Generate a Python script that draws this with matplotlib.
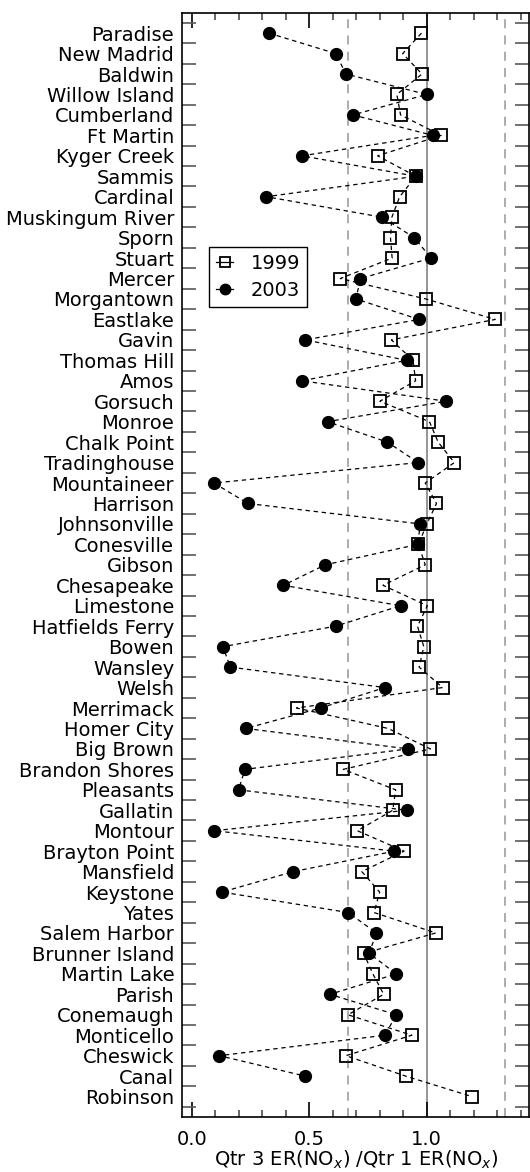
import numpy as np
import matplotlib
matplotlib.use("Agg")
from matplotlib import pyplot as plt
from matplotlib.legend_handler import HandlerLine2D
from matplotlib.ticker import MultipleLocator, FixedLocator

plants = ["Paradise", "New Madrid", "Baldwin", "Willow Island", "Cumberland",
          "Ft Martin", "Kyger Creek", "Sammis", "Cardinal", "Muskingum River",
          "Sporn", "Stuart", "Mercer", "Morgantown", "Eastlake", "Gavin",
          "Thomas Hill", "Amos", "Gorsuch", "Monroe", "Chalk Point",
          "Tradinghouse", "Mountaineer", "Harrison", "Johnsonville",
          "Conesville", "Gibson", "Chesapeake", "Limestone", "Hatfields Ferry",
          "Bowen", "Wansley", "Welsh", "Merrimack", "Homer City", "Big Brown",
          "Brandon Shores", "Pleasants", "Gallatin", "Montour", "Brayton Point",
          "Mansfield", "Keystone", "Yates", "Salem Harbor", "Brunner Island",
          "Martin Lake", "Parish", "Conemaugh", "Monticello", "Cheswick",
          "Canal", "Robinson"]

# ratio Qtr3/Qtr1
er_1999 = [0.978, 0.898, 0.980, 0.873, 0.889, 1.062, 0.791, 0.954, 0.885, 0.852,
           0.846, 0.853, 0.632, 0.997, 1.292, 0.850, 0.942, 0.953, 0.801, 1.012,
           1.049, 1.118, 0.994, 1.042, 1.001, 0.965, 0.994, 0.814, 1.003, 0.961,
           0.988, 0.968, 1.068, 0.446, 0.836, 1.016, 0.645, 0.868, 0.856, 0.705,
           0.904, 0.724, 0.800, 0.776, 1.039, 0.732, 0.771, 0.817, 0.665, 0.937,
           0.656, 0.911, 1.193]
er_2003 = [0.328, 0.613, 0.656, 1.000, 0.686, 1.026, 0.469, 0.954, 0.317, 0.810,
           0.947, 1.019, 0.718, 0.699, 0.968, 0.483, 0.915, 0.469, 1.083, 0.578,
           0.833, 0.964, 0.094, 0.239, 0.973, 0.962, 0.568, 0.390, 0.889, 0.612,
           0.132, 0.164, 0.822, 0.548, 0.230, 0.922, 0.226, 0.199, 0.915, 0.096,
           0.863, 0.432, 0.128, 0.666, 0.786, 0.755, 0.871, 0.588, 0.871, 0.822,
           0.117, 0.483, np.nan]

ref_lines = [2 / 3, 4 / 3]

ypos = np.arange(len(plants))


class StubHandler(HandlerLine2D):
    # short line on the left, marker at the right end
    def get_xdata(self, legend, xdescent, ydescent, width, height, fontsize):
        xdata = np.array([-xdescent, -xdescent + width])
        return xdata, np.array([-xdescent + width])


plt.rcParams["font.family"] = ["DejaVu Sans"]
fig = plt.figure(figsize=(5.3, 11.72), dpi=100)
ax = fig.add_axes([0.3443, 0.0469, 0.6538, 0.9416])

ax.axvline(1.0, color="0.55", lw=1.3, zorder=1)
for v in ref_lines:
    ax.axvline(v, color="0.65", lw=1.3, ls=(0, (5, 4)), zorder=1)

ax.plot(er_1999, ypos, ls=(0, (3.5, 3)), color="k", lw=0.9,
        marker="s", ms=8, mfc="none", mec="k", mew=1.3, label="1999", zorder=3)
ax.plot(er_2003, ypos, ls=(0, (3.5, 3)), color="k", lw=0.9,
        marker="o", ms=8.5, mfc="k", mec="k", label="2003", zorder=4)

ax.set_xlim(-0.04, 1.436)
ax.set_ylim(53.0, -0.96)

ax.set_yticks(ypos)
ax.set_yticklabels(plants, fontsize=14)
ax.yaxis.set_minor_locator(FixedLocator(np.arange(-0.5, len(plants), 1.0)))
ax.tick_params(axis="y", which="major", length=0, pad=6)
ax.tick_params(axis="y", which="minor", direction="in", length=10, width=1.2,
               color="0.35", left=True, right=True)

ax.set_xticks([0.0, 0.5, 1.0])
ax.set_xticklabels(["0.0", "0.5", "1.0"], fontsize=14)
ax.xaxis.set_minor_locator(MultipleLocator(0.1))
ax.tick_params(axis="x", which="major", direction="in", length=11, width=1.2,
               top=True, bottom=True, pad=9)
ax.tick_params(axis="x", which="minor", direction="in", length=5, width=1.2,
               color="0.3", top=True, bottom=True)

for s in ax.spines.values():
    s.set_linewidth(1.2)

ax.set_xlabel("Qtr 3 ER(NO$_x$) /Qtr 1 ER(NO$_x$)", fontsize=14, labelpad=0)

leg = ax.legend(loc="upper left", bbox_to_anchor=(0.077, 0.788),
                borderaxespad=0, fontsize=14, frameon=True, fancybox=False,
                edgecolor="k", framealpha=1, handlelength=0.9,
                handletextpad=0.9, labelspacing=0.4, borderpad=0.35,
                handler_map={plt.Line2D: StubHandler(numpoints=1)})
leg.get_frame().set_linewidth(1.0)
for h in leg.legend_handles:
    h.set_linestyle("-")
    h.set_markersize(7.5)

fig.savefig("out.png", dpi=100)
